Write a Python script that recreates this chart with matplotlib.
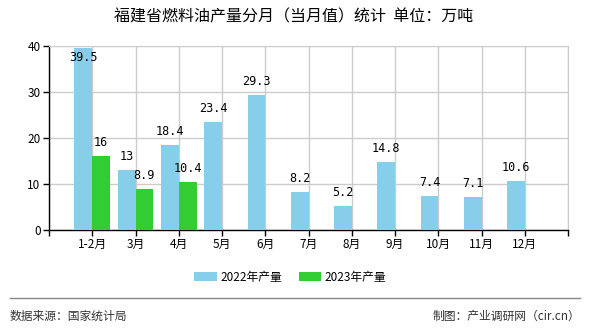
import matplotlib
matplotlib.use("Agg")
import matplotlib.pyplot as plt
import numpy as np

plt.rcParams['font.family'] = ['Noto Sans CJK SC', 'DejaVu Sans']

# Données
mois = ['1-2月', '3月', '4月', '5月', '6月', '7月', '8月', '9月', '10月', '11月', '12月']
prod_2022 = [39.5, 13, 18.4, 23.4, 29.3, 8.2, 5.2, 14.8, 7.4, 7.1, 10.6]
prod_2023 = [16, 8.9, 10.4]
labels_2022 = ['39.5', '13', '18.4', '23.4', '29.3', '8.2', '5.2', '14.8', '7.4', '7.1', '10.6']
labels_2023 = ['16', '8.9', '10.4']

couleur_2022 = '#87CEEB'
couleur_2023 = '#32CD32'

fig = plt.figure(figsize=(5.9, 3.3), dpi=100)
ax = fig.add_axes([0.083, 0.3045, 0.88, 0.556])

x = np.arange(1, len(mois) + 1)
largeur = 0.41
ax.bar(x - largeur / 2, prod_2022, width=largeur, color=couleur_2022, label='2022年产量', zorder=3)
x23 = x[:len(prod_2023)]
ax.bar(x23 + largeur / 2, prod_2023, width=largeur, color=couleur_2023, label='2023年产量', zorder=3)

# Étiquettes de valeurs
for xi, v, t in zip(x, prod_2022, labels_2022):
    y = v + 1.5 if v < 38 else v - 3.5
    ax.text(xi - largeur / 2, y, t, ha='center', va='bottom', fontsize=8.5,
            family=['DejaVu Sans Mono'], zorder=4)
for xi, v, t in zip(x23, prod_2023, labels_2023):
    ax.text(xi + largeur / 2, v + 1.5, t, ha='center', va='bottom', fontsize=8.5,
            family=['DejaVu Sans Mono'], zorder=4)

# Axes
ax.set_xlim(0, 12)
ax.set_ylim(0, 40)
ax.set_xticks(np.arange(0, 13))
ax.set_xticklabels([''] + mois + [''], fontsize=8.5)
ax.set_yticks([0, 10, 20, 30, 40])
ax.tick_params(axis='y', labelsize=8.5, length=4, width=1, pad=2)
ax.tick_params(axis='x', length=4, width=1, pad=2)
ax.grid(True, color='#cccccc', linewidth=1, zorder=0)
for s in ['top', 'right']:
    ax.spines[s].set_color('#cccccc')
for s in ['left', 'bottom']:
    ax.spines[s].set_color('black')
    ax.spines[s].set_linewidth(1)

# Titre
fig.text(0.498, 0.948, '福建省燃料油产量分月（当月值）统计  单位：万吨', ha='center', va='center',
         fontsize=11.5)

# Légende
fig.legend(loc='center', bbox_to_anchor=(0.492, 0.16), ncol=2, frameon=False,
           fontsize=8.5, handlelength=1.9, handleheight=0.8, columnspacing=1.4,
           handletextpad=0.3)

# Pied de page
fig.add_artist(plt.Line2D([0.017, 0.983], [0.097, 0.097], color='#888888', linewidth=1))
fig.text(0.017, 0.042, '数据来源：国家统计局', ha='left', va='center', fontsize=8.5, color='#333333')
fig.text(0.983, 0.042, '制图：产业调研网（cir.cn）', ha='right', va='center', fontsize=8.5, color='#333333')

fig.savefig('out.png', dpi=100)
